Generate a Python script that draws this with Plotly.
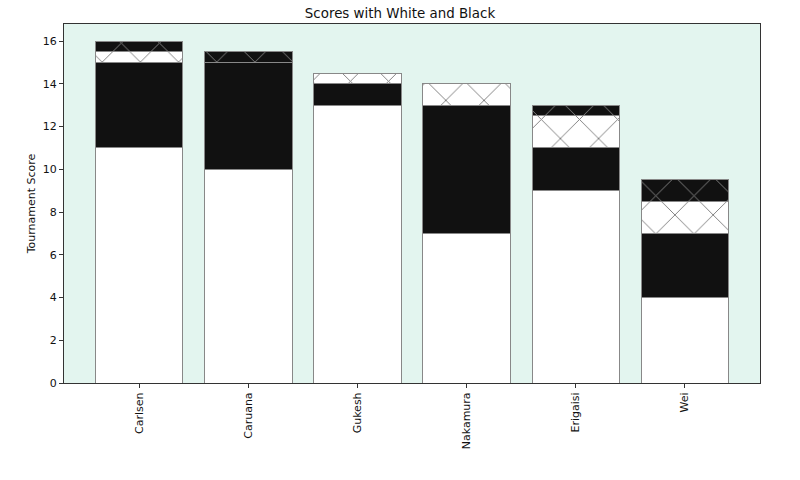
import plotly.graph_objects as go

players = ["Carlsen", "Caruana", "Gukesh", "Nakamura", "Erigaisi", "Wei"]
white_wins = [11, 10, 13, 7, 9, 4]
black_wins = [4, 5, 1, 6, 2, 3]
white_draws = [0.5, 0, 0.5, 1, 1.5, 1.5]
black_draws = [0.5, 0.5, 0, 0, 0.5, 1]

x = list(range(len(players)))
edge = "#888888"
fig = go.Figure()

def add(vals, color, hatch, name):
    pattern = dict(shape="x", fgcolor="#808080", bgcolor=color, size=27, solidity=0.07, fillmode="replace") if hatch else dict(shape="")
    fig.add_trace(go.Bar(x=x, y=vals, name=name, width=0.8,
                         marker=dict(color=color, line=dict(color=edge, width=1), pattern=pattern)))

add(white_wins, "#ffffff", False, "White")
add(black_wins, "#111111", False, "Black")
add(white_draws, "#ffffff", True, "White draws")
add(black_draws, "#111111", True, "Black draws")

fig.update_layout(
    barmode="stack", width=800, height=480, showlegend=False,
    margin=dict(l=64, r=40, t=24, b=97),
    paper_bgcolor="white", plot_bgcolor="#e3f5ef",
    font=dict(family="DejaVu Sans", size=11, color="#111"),
    title=dict(text="Scores with White and Black", x=0.5, xanchor="center", y=1 - 13/480, yanchor="middle", font=dict(size=13.4)),
    xaxis=dict(range=[-0.69, 5.69], tickvals=x, ticktext=players, tickangle=-90,
               showgrid=False, zeroline=False, showline=True, linecolor="#333", mirror=True,
               ticks="outside", ticklen=4, tickcolor="#333"),
    yaxis=dict(range=[0, 16.8], tickvals=list(range(0, 17, 2)), showgrid=False, zeroline=False,
               showline=True, linecolor="#333", mirror=True, ticks="outside", ticklen=4, tickcolor="#333",
               title=dict(text="Tournament Score", standoff=4, font=dict(size=11))),
)
fig.write_html("out.html", config={"displayModeBar": False},
               post_script="document.body.style.margin='0';")
